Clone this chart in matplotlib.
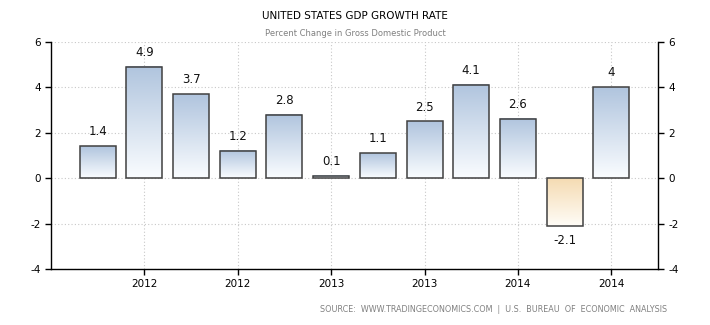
import numpy as np
import matplotlib
matplotlib.use("Agg")
import matplotlib.pyplot as plt

values = [1.4, 4.9, 3.7, 1.2, 2.8, 0.1, 1.1, 2.5, 4.1, 2.6, -2.1, 4.0]
labels = ["1.4", "4.9", "3.7", "1.2", "2.8", "0.1", "1.1", "2.5", "4.1", "2.6", "-2.1", "4"]
tick_pos = [2, 4, 6, 8, 10, 12]
tick_labels = ["2012", "2012", "2013", "2013", "2014", "2014"]

plt.rcParams["font.family"] = "DejaVu Sans"
plt.rcParams["axes.unicode_minus"] = False

fig = plt.figure(figsize=(7.1, 3.25), dpi=100)
ax = fig.add_axes([51 / 710, 56 / 325, 607 / 710, 227 / 325])

x = np.arange(1, len(values) + 1)
bars = ax.bar(x, values, width=0.77, facecolor="none", edgecolor="#404040",
              linewidth=1.1, zorder=3)

# vertical gradient inside each bar, darker at the top
grad = np.linspace(0, 1, 256).reshape(-1, 1, 1)
for b, v in zip(bars, values):
    x0, y0, w, h = b.get_x(), b.get_y(), b.get_width(), b.get_height()
    if v >= 0:
        top, bot = np.array([0.69, 0.77, 0.87]), np.array([0.98, 0.99, 1.0])
    else:
        top, bot = np.array([0.96, 0.86, 0.70]), np.array([1.0, 0.99, 0.97])
    img = bot + (top - bot) * grad
    lo, hi = min(y0, y0 + h), max(y0, y0 + h)
    ax.imshow(img, extent=[x0, x0 + w, lo, hi], origin="lower",
              aspect="auto", zorder=2)

for xi, v, lab in zip(x, values, labels):
    if v >= 0:
        ax.text(xi, v + 0.35, lab, ha="center", va="bottom", fontsize=8.5, color="#111111")
    else:
        ax.text(xi, v - 0.35, lab, ha="center", va="top", fontsize=8.5, color="#111111")

ax.set_xlim(0, 13)
ax.set_ylim(-4, 6)
ax.set_yticks([-4, -2, 0, 2, 4, 6])
ax.set_xticks(tick_pos)
ax.set_xticklabels(tick_labels)
ax.grid(True, color="#c8c8c8", linestyle=(0, (1, 2)), linewidth=0.8, zorder=0)
ax.set_axisbelow(True)

ax.spines["top"].set_visible(False)
for s in ["left", "right", "bottom"]:
    ax.spines[s].set_color("black")
    ax.spines[s].set_linewidth(1.0)

ax.tick_params(axis="both", labelsize=7.5, colors="black", length=4, width=1,
               direction="out")
ax.tick_params(axis="y", left=True, right=True, labelleft=True, labelright=True)

fig.text(0.5, 1 - 16 / 325, "UNITED STATES GDP GROWTH RATE", ha="center",
         va="center", fontsize=7.5, color="black")
fig.text(0.5, 1 - 33 / 325, "Percent Change in Gross Domestic Product", ha="center",
         va="center", fontsize=6, color="#808080")
fig.text(667 / 710, 1 - 310 / 325,
         "SOURCE:  WWW.TRADINGECONOMICS.COM  |  U.S.  BUREAU  OF  ECONOMIC  ANALYSIS",
         ha="right", va="center", fontsize=5.8, color="#808080")

fig.savefig("out.png", dpi=100)
